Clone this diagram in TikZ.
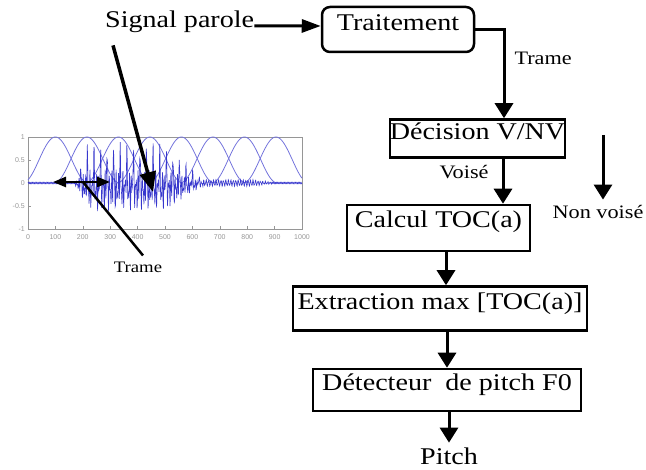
\documentclass[tikz,border=0pt]{standalone}
\usepackage{fontspec}
\setmainfont{Liberation Serif}[FakeStretch=1.17]
\newfontfamily\plotfont{Liberation Sans}
\usepackage{tikz}
\usetikzlibrary{positioning,arrows.meta}
\definecolor{SigBlue}{RGB}{55,55,205}
\definecolor{WinBlue}{RGB}{115,115,220}
\definecolor{AxGray}{RGB}{150,150,150}

\begin{document}
\begin{tikzpicture}[x=1pt,y=1pt,
  declare function={
    ea(\x)=max(0,min(1,(\x-170)/50));
    eb(\x)=max(0,min(1,(650-\x)/150));
    et(\x)=max(0,min(1,(\x-620)/30))*max(0,min(1,(900-\x)/80));
    pp(\x)=max(0,cos(15*mod(\x,24)));
    sg(\x)=ea(\x)*eb(\x)*(0.8*pp(\x)*pp(\x)*pp(\x)*pp(\x)*pp(\x)*pp(\x)
      +0.28*sin(45*mod(\x,40))+0.18*sin(72*mod(\x,5))-0.15)
      +0.06*et(\x)*sin(40*mod(\x,9))+0.015*sin(72*mod(\x,5));
  }]
  \tikzstyle{blk}=[draw,line width=2.5pt,inner xsep=0pt,inner ysep=0pt,
    text height=22pt,text depth=21pt,font=\fontsize{24}{28}\selectfont]
  \tikzstyle{arr}=[line width=3pt,-{Triangle[width=18pt,length=15pt]}]
  \tikzstyle{lbl}=[inner sep=0pt,font=\fontsize{19}{22}\selectfont]
  \tikzstyle{win}=[WinBlue,line width=0.8pt]
  \tikzstyle{tick}=[inner sep=0pt,text=AxGray,font=\plotfont\fontsize{7}{8}\selectfont]
  \useasboundingbox (0,0) rectangle (646,470);

  % signal plot with the analysis windows
  \draw[AxGray,line width=0.6pt] (28,241) rectangle (302,333);
  \foreach \v [count=\i from 0] in {0,100,...,1000} {
    \draw[AxGray,line width=0.4pt] ({28+0.274*\v},241) -- ++(0,2.5);
    \node[tick] (xl\i) at ({28+0.274*\v},233) {\v};
  }
  \foreach \v/\yy [count=\i] in {1/333,0.5/310,0/287,-0.5/264,-1/241} {
    \draw[AxGray,line width=0.4pt] (28,\yy) -- ++(2.5,0);
    \node[tick,anchor=east] (yl\i) at (25,\yy) {\v};
  }
  \foreach \c in {100,215,...,905} {
    \pgfmathsetmacro\wa{max(0,\c-120)}
    \pgfmathsetmacro\wb{min(1000,\c+120)}
    \draw[win] plot[domain=\wa:\wb,samples=60] ({28+0.274*\x},{287+23*(1+cos(1.5*(\x-\c)))});
  }
  \draw[SigBlue,line width=0.6pt] plot[domain=0:1000,samples=800]
    ({28+0.274*\x},{287+46*sg(\x)});

  % processing chain
  \node[anchor=base west,inner sep=0pt,font=\fontsize{24}{28}\selectfont] (sig) at (105,442) {Signal parole};
  \node[blk,rounded corners=8pt,minimum width=152pt,text height=24pt] (trt) at (398,440.5) {Traitement};
  \node[blk,below=65pt of trt,xshift=79.5pt,minimum width=171pt,text height=20pt,text depth=18pt] (dec) {Décision V/NV};
  \node[blk,below=45pt of dec,xshift=-39pt,minimum width=183pt,text height=23pt,text depth=23pt] (calc) {Calcul TOC(a)};
  \node[blk,below=33pt of calc,xshift=1.5pt,minimum width=294pt,text height=23pt] (ext) {Extraction max [TOC(a)]};
  \node[blk,below=36pt of ext,xshift=7pt,minimum width=268pt,text height=22pt,text depth=20pt] (det) {Détecteur~ de pitch F0};
  \node[anchor=base,inner sep=0pt,font=\fontsize{24}{28}\selectfont] (pit) at (449,5) {Pitch};
  \node[lbl] (nv) at (598,258) {Non voisé};
  \coordinate (nvtop) at (603,335);

  \draw[line width=3pt,-{Triangle[width=13pt,length=19pt]}] ([yshift=-3.6pt]sig.east) -- ([yshift=3.5pt]trt.west);
  \draw[arr] (trt.east) -| ([xshift=26.5pt]dec.north)
    node[lbl,pos=0.66,anchor=west,xshift=9pt] {Trame};
  \draw[arr] ([xshift=25.5pt]dec.south) -- ([xshift=64.5pt]calc.north)
    node[lbl,pos=0.3,anchor=east,xshift=-13pt] {Voisé};
  \draw[arr] (nvtop) -- (nvtop |- nv.north) [shorten >=5.5pt];
  \draw[arr] ([xshift=7.5pt]calc.south) -- ([xshift=6pt]ext.north);
  \draw[arr] ([xshift=7pt]ext.south) -- (det.north);
  \draw[arr,shorten >=5.5pt] ([xshift=2pt]det.south) -- (pit.north);

  % pointers into the plot
  \coordinate (spk) at (153,278);
  \coordinate (fra) at (53,288);
  \coordinate (frb) at (110,288);
  \coordinate (frc) at (83,288);
  \node[inner sep=0pt,font=\fontsize{16}{18}\selectfont] (trp) at (138,203) {Trame};
  \draw[line width=3.5pt,-{Triangle[width=16pt,length=20pt]}] ([shift={(8pt,-12pt)}]sig.south west) -- (spk);
  \draw[line width=2.5pt,{Triangle[width=10pt,length=13pt]}-{Triangle[width=10pt,length=13pt]}] (fra) -- (frb);
  \draw[line width=2.5pt] ([shift={(5pt,6pt)}]trp.north) -- (frc);
\end{tikzpicture}
\end{document}
